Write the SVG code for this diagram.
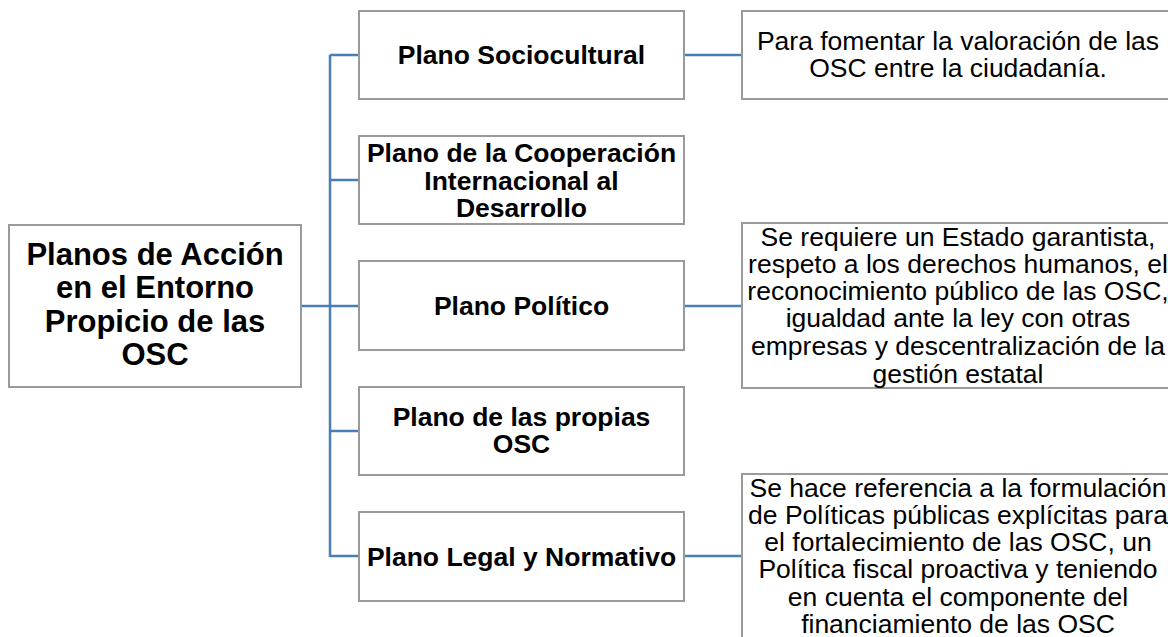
<svg xmlns="http://www.w3.org/2000/svg" width="1168" height="637" viewBox="0 0 1168 637">
<style>
.box{fill:#ffffff;stroke:#9a9a9a;stroke-width:2}
.conn{fill:none;stroke:#4a7ebb;stroke-width:2.5}
.root{font-family:"Liberation Sans",Arial,sans-serif;font-weight:bold;font-size:31px;fill:#000;text-anchor:middle}
.mid{font-family:"Liberation Sans",Arial,sans-serif;font-weight:bold;font-size:26.5px;fill:#000;text-anchor:middle}
.desc{font-family:"Liberation Sans",Arial,sans-serif;font-size:26.5px;fill:#000;text-anchor:middle}
</style>
<rect width="1168" height="637" fill="#ffffff"/>
<g id="connectors">
<path class="conn" d="M301,306 H330 M330,55 V557 M330,55 H359 M330,180 H359 M330,306 H359 M330,431 H359 M330,556 H359"/>
<path class="conn" d="M684,55 H742 M684,306 H742 M684,556 H742"/>
</g>
<g id="root">
<rect class="box" x="9" y="225" width="292" height="162"/>
<text class="root" x="155" y="265">Planos de Acción</text>
<text class="root" x="155" y="298">en el Entorno</text>
<text class="root" x="155" y="332">Propicio de las</text>
<text class="root" x="155" y="365">OSC</text>
</g>
<g id="plano-sociocultural">
<rect class="box" x="359" y="11" width="325" height="88"/>
<text class="mid" x="521.5" y="64">Plano Sociocultural</text>
</g>
<g id="plano-cooperacion">
<rect class="box" x="359" y="136" width="325" height="88"/>
<text class="mid" x="521.5" y="162">Plano de la Cooperación</text>
<text class="mid" x="521.5" y="189.5">Internacional al</text>
<text class="mid" x="521.5" y="217">Desarrollo</text>
</g>
<g id="plano-politico">
<rect class="box" x="359" y="261" width="325" height="89"/>
<text class="mid" x="521.5" y="315">Plano Político</text>
</g>
<g id="plano-propias">
<rect class="box" x="359" y="387" width="325" height="88"/>
<text class="mid" x="521.5" y="426">Plano de las propias</text>
<text class="mid" x="521.5" y="453">OSC</text>
</g>
<g id="plano-legal">
<rect class="box" x="359" y="512" width="325" height="89"/>
<text class="mid" x="521.5" y="566">Plano Legal y Normativo</text>
</g>
<g id="desc-sociocultural">
<rect class="box" x="742" y="11" width="432" height="88"/>
<text class="desc" x="958" y="50">Para fomentar la valoración de las</text>
<text class="desc" x="958" y="77">OSC entre la ciudadanía.</text>
</g>
<g id="desc-politico">
<rect class="box" x="742" y="223" width="432" height="165"/>
<text class="desc" x="958" y="246">Se requiere un Estado garantista,</text>
<text class="desc" x="958" y="273">respeto a los derechos humanos, el</text>
<text class="desc" x="958" y="300">reconocimiento público de las OSC,</text>
<text class="desc" x="958" y="327">igualdad ante la ley con otras</text>
<text class="desc" x="958" y="355">empresas y descentralización de la</text>
<text class="desc" x="958" y="383">gestión estatal</text>
</g>
<g id="desc-legal">
<rect class="box" x="742" y="474" width="432" height="180"/>
<text class="desc" x="958" y="497">Se hace referencia a la formulación</text>
<text class="desc" x="958" y="524">de Políticas públicas explícitas para</text>
<text class="desc" x="958" y="551">el fortalecimiento de las OSC, un</text>
<text class="desc" x="958" y="578">Política fiscal proactiva y teniendo</text>
<text class="desc" x="958" y="606">en cuenta el componente del</text>
<text class="desc" x="958" y="633">financiamiento de las OSC</text>
</g>
</svg>
